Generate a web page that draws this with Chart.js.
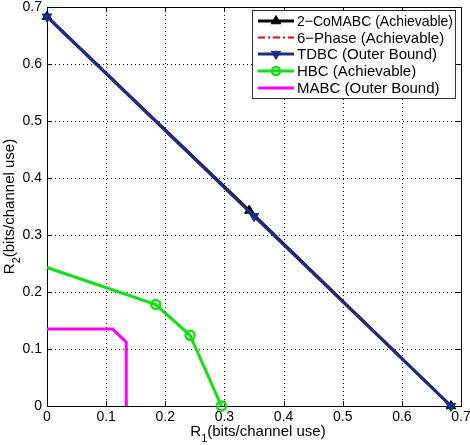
<!DOCTYPE html>
<html>
<head>
<meta charset="utf-8">
<script src="https://cdn.jsdelivr.net/npm/chart.js@4/dist/chart.umd.min.js"></script>
<style>
  html, body { margin: 0; padding: 0; background: #fff; }
  #wrap { width: 470px; height: 445px; }
</style>
</head>
<body>
<div id="wrap"><canvas id="region-chart"></canvas></div>
<script>
// axis ticks
const xTicks = [0, 0.1, 0.2, 0.3, 0.4, 0.5, 0.6, 0.7];
const yTicks = [0, 0.1, 0.2, 0.3, 0.4, 0.5, 0.6, 0.7];

// series (R1, R2)
const coMabcR1 = [0, 0.342, 0.683];
const coMabcR2 = [0.683, 0.343, 0];
const sixPhaseR1 = [0, 0.683];
const sixPhaseR2 = [0.683, 0];
const tdbcR1 = [0, 0.35, 0.683];
const tdbcR2 = [0.683, 0.333, 0];
const hbcR1 = [0, 0.184, 0.242, 0.295];
const hbcR2 = [0.243, 0.178, 0.124, 0];
const mabcR1 = [0, 0.111, 0.134, 0.134];
const mabcR2 = [0.135, 0.135, 0.112, 0];

const seriesNames = [
    '2\u2212CoMABC (Achievable)',
    '6\u2212Phase (Achievable)',
    'TDBC (Outer Bound)',
    'HBC (Achievable)',
    'MABC (Outer Bound)'
];

function toPoints(xs, ys) {
    return xs.map((v, i) => ({ x: v, y: ys[i] }));
}

const FONT = '"Liberation Sans", Arial, Helvetica, sans-serif';

// dotted grid, inner ticks, box, axis titles and legend (MATLAB look)
const matlabFrame = {
    id: 'matlabFrame',
    beforeDatasetsDraw(chart) {
        const { ctx, chartArea: a, scales: { x, y } } = chart;
        ctx.save();
        ctx.strokeStyle = '#000';
        ctx.lineWidth = 1;
        ctx.setLineDash([1, 3]);
        ctx.beginPath();
        xTicks.forEach(v => {
            if (v <= 0 || v >= 0.7) return;
            const px = Math.round(x.getPixelForValue(v)) + 0.5;
            ctx.moveTo(px, a.top);
            ctx.lineTo(px, a.bottom);
        });
        yTicks.forEach(v => {
            if (v <= 0 || v >= 0.7) return;
            const py = Math.round(y.getPixelForValue(v)) + 0.5;
            ctx.moveTo(a.left, py);
            ctx.lineTo(a.right, py);
        });
        ctx.stroke();
        ctx.setLineDash([]);

        // tick marks inside on all four sides
        const len = 5;
        ctx.beginPath();
        xTicks.forEach(v => {
            const px = Math.round(x.getPixelForValue(v)) + 0.5;
            ctx.moveTo(px, a.bottom); ctx.lineTo(px, a.bottom - len);
            ctx.moveTo(px, a.top); ctx.lineTo(px, a.top + len);
        });
        yTicks.forEach(v => {
            const py = Math.round(y.getPixelForValue(v)) + 0.5;
            ctx.moveTo(a.left, py); ctx.lineTo(a.left + len, py);
            ctx.moveTo(a.right, py); ctx.lineTo(a.right - len, py);
        });
        ctx.stroke();

        ctx.strokeRect(Math.round(a.left) + 0.5, Math.round(a.top) + 0.5,
            Math.round(a.right - a.left), Math.round(a.bottom - a.top));
        ctx.restore();
    },
    afterDraw(chart) {
        const { ctx, chartArea: a } = chart;
        ctx.save();
        ctx.fillStyle = '#000';

        // axis titles with subscripts
        const drawTitle = (sub, cx, cy) => {
            const main = 'R', rest = '(bits/channel use)';
            ctx.font = '15px ' + FONT;
            const wR = ctx.measureText(main).width;
            const wRest = ctx.measureText(rest).width;
            ctx.font = '11px ' + FONT;
            const wSub = ctx.measureText(sub).width;
            let sx = cx - (wR + wSub + wRest) / 2;
            ctx.textBaseline = 'alphabetic';
            ctx.textAlign = 'left';
            ctx.font = '15px ' + FONT;
            ctx.fillText(main, sx, cy);
            ctx.font = '11px ' + FONT;
            ctx.fillText(sub, sx + wR, cy + 6);
            ctx.font = '15px ' + FONT;
            ctx.fillText(rest, sx + wR + wSub, cy);
        };
        drawTitle('1', (a.left + a.right) / 2 + 4, 436);
        ctx.save();
        ctx.translate(14, (a.top + a.bottom) / 2);
        ctx.rotate(-Math.PI / 2);
        drawTitle('2', 0, 0);
        ctx.restore();

        // legend box
        const bx = 252.5, by = 10.5, bw = 203, bh = 88;
        ctx.fillStyle = '#fff';
        ctx.fillRect(bx, by, bw, bh);
        ctx.strokeStyle = '#333';
        ctx.lineWidth = 1;
        ctx.strokeRect(bx, by, bw, bh);

        const rowY = [21, 37.5, 54, 71, 88];
        chart.data.datasets.forEach((ds, i) => {
            const ly = rowY[i];
            ctx.save();
            ctx.strokeStyle = ds.borderColor;
            ctx.lineWidth = ds.borderWidth;
            ctx.setLineDash(ds.borderDash || []);
            ctx.beginPath();
            ctx.moveTo(258, ly);
            ctx.lineTo(294, ly);
            ctx.stroke();
            ctx.setLineDash([]);
            if (ds.legendMarker) {
                ctx.fillStyle = ds.pointBackgroundColor;
                ctx.strokeStyle = ds.pointBorderColor;
                ctx.lineWidth = ds.pointBorderWidth;
                Chart.helpers.drawPoint(ctx, {
                    pointStyle: ds.pointStyle,
                    radius: ds.legendMarker,
                    rotation: ds.pointRotation || 0,
                    borderWidth: ds.pointBorderWidth
                }, 276, ly);
            }
            ctx.restore();
            ctx.save();
            ctx.fillStyle = '#000';
            ctx.font = '15px ' + FONT;
            ctx.textAlign = 'left';
            ctx.textBaseline = 'middle';
            ctx.fillText(seriesNames[i], 297, ly + 1, 156);
            ctx.restore();
        });
        ctx.restore();
    }
};

const ctx = document.getElementById('region-chart').getContext('2d');

new Chart(ctx, {
    type: 'line',
    data: {
        datasets: [
            {
                label: seriesNames[0],
                data: toPoints(coMabcR1, coMabcR2),
                borderColor: '#000',
                borderWidth: 3,
                pointStyle: 'triangle',
                pointRadius: 5.5,
                pointBackgroundColor: '#000',
                pointBorderColor: '#000',
                pointBorderWidth: 1,
                legendMarker: 5.5,
                order: 5,
            },
            {
                label: seriesNames[1],
                data: toPoints(sixPhaseR1, sixPhaseR2),
                borderColor: '#ff0000',
                borderWidth: 2,
                borderDash: [7, 3, 2, 3],
                pointRadius: 0,
                legendMarker: 0,
                order: 4,
            },
            {
                label: seriesNames[2],
                data: toPoints(tdbcR1, tdbcR2),
                borderColor: '#1c2c8c',
                borderWidth: 3,
                pointStyle: 'triangle',
                pointRotation: 180,
                pointRadius: 5.5,
                pointBackgroundColor: '#1c2c8c',
                pointBorderColor: '#1c2c8c',
                pointBorderWidth: 1,
                legendMarker: 5.5,
                order: 3,
            },
            {
                label: seriesNames[3],
                data: toPoints(hbcR1, hbcR2),
                borderColor: '#11e011',
                borderWidth: 3,
                pointStyle: 'circle',
                pointRadius: [0, 4.5, 4.5, 4.5],
                pointBackgroundColor: 'rgba(255,255,255,0)',
                pointBorderColor: '#11e011',
                pointBorderWidth: 2.5,
                legendMarker: 4,
                order: 2,
            },
            {
                label: seriesNames[4],
                data: toPoints(mabcR1, mabcR2),
                borderColor: '#ff00ff',
                borderWidth: 3,
                pointRadius: 0,
                legendMarker: 0,
                order: 1,
            },
        ].map(ds => Object.assign({ fill: false, tension: 0, clip: false, pointHoverRadius: 0 }, ds)),
    },
    options: {
        responsive: true,
        maintainAspectRatio: false,
        animation: false,
        events: [],
        layout: { padding: { top: 5, right: 9, left: 0, bottom: 0 } },
        plugins: {
            legend: { display: false },
            tooltip: { enabled: false },
        },
        scales: {
            x: {
                type: 'linear',
                min: 0,
                max: 0.7,
                afterBuildTicks: s => { s.ticks = xTicks.map(v => ({ value: v })); },
                afterFit: s => { s.height = 39; s.paddingLeft = 0; s.paddingRight = 0; },
                ticks: {
                    font: { size: 14, family: FONT },
                    color: '#000',
                    padding: 3,
                    maxRotation: 0,
                    callback: v => String(v),
                },
                grid: { display: false, drawTicks: false },
                border: { display: false },
            },
            y: {
                type: 'linear',
                min: 0,
                max: 0.7,
                afterBuildTicks: s => { s.ticks = yTicks.map(v => ({ value: v })); },
                afterFit: s => { s.width = 47; s.paddingTop = 0; s.paddingBottom = 0; },
                ticks: {
                    font: { size: 14, family: FONT },
                    color: '#000',
                    padding: 5,
                    callback: v => String(v),
                },
                grid: { display: false, drawTicks: false },
                border: { display: false },
            },
        },
    },
    plugins: [matlabFrame],
});
</script>
</body>
</html>
